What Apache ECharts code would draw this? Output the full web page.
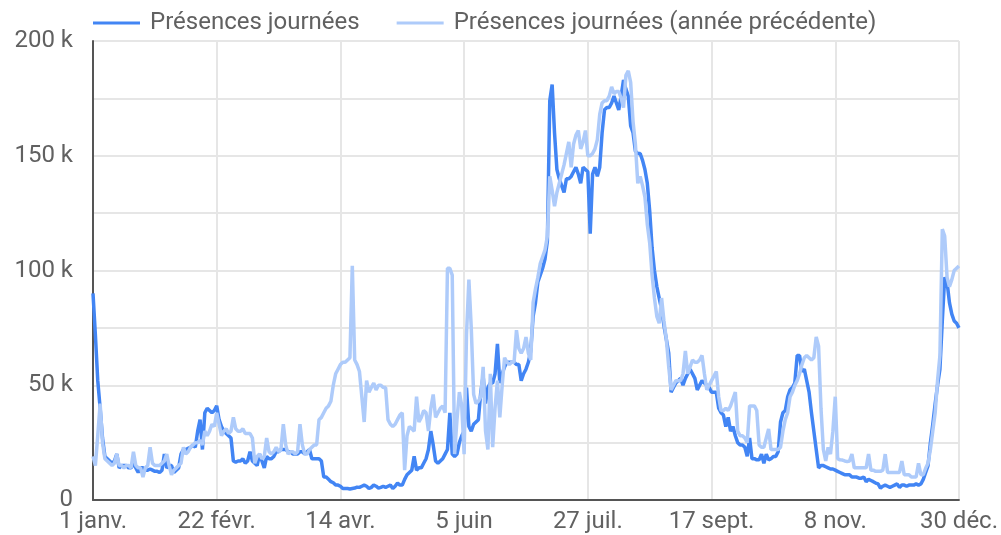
<!DOCTYPE html>
<html>
<head>
<meta charset="utf-8">
<script src="https://cdn.jsdelivr.net/npm/echarts@6/dist/echarts.min.js"></script>
<style>
  html, body { margin: 0; padding: 0; background: #fff; }
  #chart { width: 1001px; height: 535px; }
</style>
</head>
<body>
<div id="chart"></div>
<script>
// daily attendance, in thousands, 1 Jan -> 30 Dec (leap year)
const current = [
  90, 72, 52, 40, 27, 19, 18, 17, 16, 17,
  20, 14, 15, 15, 15, 14, 14, 16, 14, 12,
  14, 14, 13, 13, 13.5, 13, 12.5, 12.5, 12, 13,
  20, 14, 15, 15, 12, 13, 14, 20, 22, 22,
  22.5, 23, 24, 23, 30, 35, 22, 38, 40, 39,
  38, 39, 41, 35, 32, 30, 29, 28, 27, 17,
  16.5, 17, 17, 18, 16, 17, 21, 17, 16, 15,
  20, 17, 14, 19, 18, 18, 19, 21, 21, 22,
  22, 22, 21, 21, 20, 20, 20, 21, 21, 20,
  21, 22, 18, 18, 18, 18, 17, 10, 10, 9,
  8, 7.5, 6.5, 6.5, 6, 5, 5, 5, 4.8, 5,
  5.2, 5.6, 5.5, 6, 6.5, 6, 5, 5.5, 6.5, 6,
  5.2, 5.5, 6, 5.5, 6, 6.5, 5, 6, 7.4, 6.5,
  6.5, 9, 11, 12, 13, 19, 13, 14, 14, 16,
  18, 22, 30, 24, 17, 16, 17, 18, 20, 22,
  38, 20, 19, 20, 25, 28, 30, 49, 32, 30,
  33, 34, 35, 47, 54, 42, 49, 51, 51, 55,
  68, 51, 55, 58, 60, 60, 60, 60, 59, 59,
  52, 55, 57, 60, 65, 80, 86, 95, 98, 101,
  105, 113, 174, 181, 160, 144, 140, 137, 134, 140,
  140, 141, 143, 145, 142, 138, 145, 144, 143, 116,
  142, 145, 141, 145, 160, 170, 171, 171, 173, 176,
  173, 170, 176, 183, 179, 176, 163, 160, 152, 151,
  151, 148, 144, 138, 126, 110, 100, 93, 88, 83,
  76, 70, 64, 47, 49, 51, 52, 53, 50, 53,
  55, 57, 55, 53, 48, 50, 52, 51, 50, 49,
  47, 47, 47, 40, 38, 37, 32, 36, 30, 32,
  28, 25, 24, 24, 23, 19, 27, 18, 18, 17.5,
  17.5, 20, 16, 20, 17.5, 18, 19, 19, 21, 34,
  38, 39, 45, 48, 49, 51, 63, 63, 56, 57,
  52, 47, 38, 30, 22, 14, 15, 15, 14.5, 14,
  13.5, 13.5, 13, 12.5, 12, 11.5, 11, 11, 11, 10,
  10, 10, 9.5, 9.5, 10, 8, 9, 8.5, 8, 7.4,
  7, 5.2, 6, 6.5, 6, 5.5, 6, 6.5, 7, 5.5,
  6.5, 6.5, 6, 6.5, 6.5, 6.5, 7, 6.5, 7, 9,
  12, 15, 25, 33, 42, 50, 57, 78, 97, 95,
  86, 81, 78, 77, 75
];

const previous = [
  19, 15, 28, 42, 25, 18, 17, 16, 15, 16,
  20, 15, 15, 14, 15, 15, 14, 21, 15, 14,
  14, 10, 14, 15, 23, 16, 15, 15, 15, 16,
  17, 20, 15, 11, 13, 14, 15, 16, 23, 20,
  21, 23, 24, 25, 25, 26, 24, 30, 28, 30,
  33, 32, 38, 33, 28, 30, 31, 29, 30, 36,
  31, 30, 30, 31, 29, 29, 29, 27, 16, 19,
  20, 18, 19, 27, 21, 20, 21, 23, 21, 22,
  33, 24, 20, 21, 21, 20, 21, 33, 24, 20,
  20, 22, 23, 24, 24, 35, 36, 38, 40, 41,
  43, 50, 55, 57, 59, 60, 60, 61, 62, 102,
  61, 59, 56, 45, 34, 52, 47, 49, 51, 48,
  50, 50, 49, 49, 35, 33, 32, 33, 35, 37,
  38, 13, 28, 32, 31, 30, 45, 34, 36, 39,
  38, 30, 40, 46, 36, 38, 40, 41, 38, 101,
  101, 98, 20, 35, 47, 41, 20, 72, 96, 75,
  46, 42, 43, 45, 58, 30, 22, 55, 23, 40,
  52, 36, 50, 62, 60, 59, 60, 60, 74, 66,
  64, 66, 71, 64, 61, 86, 92, 97, 103, 106,
  109, 115, 141, 135, 128, 134, 138, 142, 146, 151,
  156, 145, 155, 159, 161, 153, 156, 161, 150, 150,
  151, 153, 157, 168, 173, 174, 174, 176, 180, 177,
  178, 178, 175, 171, 185, 187, 182, 165, 155, 138,
  141, 137, 132, 120, 112, 98, 88, 80, 77, 88,
  78, 70, 58, 48, 50, 52, 52, 52, 55, 65,
  55, 58, 61, 60, 60, 61, 63, 55, 48, 50,
  52, 54, 56, 45, 39, 39, 40, 39, 41, 44,
  47, 30, 28, 28, 27, 25, 41, 41, 41, 39,
  24, 23, 23, 27, 31, 22, 22, 22, 22, 23,
  30, 35, 38, 45, 47, 50, 52, 55, 59, 62,
  63, 62, 61, 62, 71, 67, 40, 22, 17, 23,
  20, 30, 45, 18, 17.5, 17.4, 17, 16.7, 17, 20,
  14, 14, 14, 14, 14, 14, 20, 13, 13, 12.5,
  12.5, 12.5, 13, 20, 12, 12, 12, 12, 12, 12,
  17, 11, 11, 11, 10, 10, 10, 16, 11, 11,
  13.8, 16, 22, 30, 38, 52, 63, 118, 115, 97,
  93, 96, 100, 101, 102
];

const months = ['janv.', 'févr.', 'mars', 'avr.', 'mai', 'juin', 'juil.', 'août', 'sept.', 'oct.', 'nov.', 'déc.'];

const days = [];
for (let i = 0; i < current.length; i++) {
  const d = new Date(Date.UTC(2024, 0, 1 + i));
  days.push(d.getUTCDate() + ' ' + months[d.getUTCMonth()]);
}

const textColor = '#616161';
const gridColor = '#e6e6e6';

const chart = echarts.init(document.getElementById('chart'), null, { renderer: 'canvas' });
chart.setOption({
  animation: false,
  textStyle: { fontFamily: 'Roboto' },
  legend: {
    top: 11,
    left: 93,
    padding: 0,
    icon: 'rect',
    itemWidth: 47,
    itemHeight: 3,
    itemGap: 37,
    textStyle: { color: textColor, fontSize: 24, fontFamily: 'Roboto', padding: [0, 0, 0, 5] },
    data: ['Présences journées', 'Présences journées (année précédente)']
  },
  grid: { left: 93, right: 40, top: 41, bottom: 35 },
  xAxis: {
    type: 'category',
    data: days,
    boundaryGap: false,
    axisLine: { lineStyle: { color: '#555555', width: 2 } },
    axisTick: { show: false },
    axisLabel: { interval: 51, color: textColor, fontSize: 24, fontFamily: 'Roboto', margin: 10, showMaxLabel: true },
    splitLine: { show: true, interval: 51, lineStyle: { color: gridColor, width: 2 } }
  },
  yAxis: {
    type: 'value',
    min: 0,
    max: 200,
    interval: 25,
    axisLine: { show: true, lineStyle: { color: '#555555', width: 2 } },
    axisTick: { show: false },
    axisLabel: {
      color: textColor, fontSize: 24, fontFamily: 'Roboto', margin: 20,
      formatter: v => (v % 50 ? '' : (v === 0 ? '0' : v + ' k'))
    },
    splitLine: { lineStyle: { color: gridColor, width: 2 } }
  },
  series: [
    {
      name: 'Présences journées',
      type: 'line',
      data: current,
      symbol: 'none',
      lineStyle: { color: '#4285f4', width: 3.5 },
      itemStyle: { color: '#4285f4' }
    },
    {
      name: 'Présences journées (année précédente)',
      type: 'line',
      data: previous,
      symbol: 'none',
      lineStyle: { color: '#aecbfa', width: 3.5 },
      itemStyle: { color: '#aecbfa' }
    }
  ]
});
</script>
</body>
</html>
